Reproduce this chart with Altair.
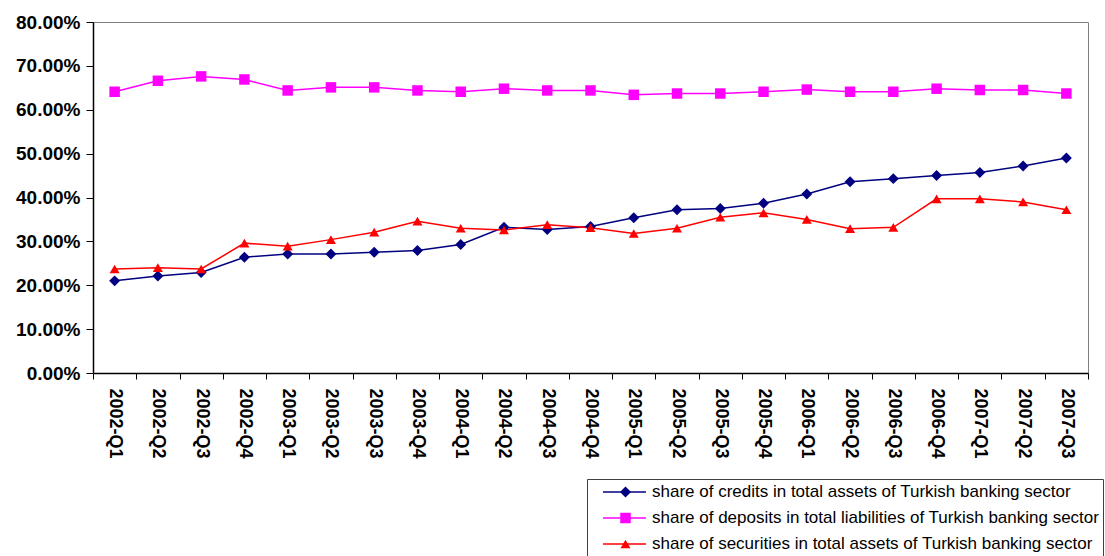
import altair as alt
import pandas as pd

quarters = [
    "2002-Q1", "2002-Q2", "2002-Q3", "2002-Q4",
    "2003-Q1", "2003-Q2", "2003-Q3", "2003-Q4",
    "2004-Q1", "2004-Q2", "2004-Q3", "2004-Q4",
    "2005-Q1", "2005-Q2", "2005-Q3", "2005-Q4",
    "2006-Q1", "2006-Q2", "2006-Q3", "2006-Q4",
    "2007-Q1", "2007-Q2", "2007-Q3",
]

# shares in percent
credits = [21.0, 22.1, 22.9, 26.4, 27.1, 27.1, 27.5, 27.9, 29.3, 33.2, 32.7, 33.4,
           35.4, 37.2, 37.5, 38.7, 40.8, 43.6, 44.3, 45.0, 45.7, 47.2, 49.0]
deposits = [64.1, 66.6, 67.6, 66.9, 64.4, 65.1, 65.1, 64.4, 64.1, 64.8, 64.4, 64.4,
            63.4, 63.7, 63.7, 64.1, 64.6, 64.1, 64.1, 64.8, 64.5, 64.5, 63.7]
securities = [23.7, 24.0, 23.7, 29.6, 28.9, 30.4, 32.1, 34.6, 33.0, 32.6, 33.8, 33.1,
              31.8, 33.0, 35.5, 36.5, 35.0, 32.9, 33.2, 39.7, 39.7, 39.0, 37.2]

series_names = [
    "share of credits in total assets of Turkish banking sector",
    "share of deposits in total liabilities of Turkish banking sector",
    "share of securities in total assets of Turkish banking sector",
]
series_colors = ["#000080", "#FF00FF", "#FF0000"]
series_shapes = ["diamond", "square", "triangle-up"]
series_sizes = [120, 100, 130]
y_ticks = [0, 0.1, 0.2, 0.3, 0.4, 0.5, 0.6, 0.7, 0.8]

rows = []
for name, vals in zip(series_names, [credits, deposits, securities]):
    for q, v in zip(quarters, vals):
        rows.append({"quarter": q, "series": name, "line_series": name, "share": v / 100})
df = pd.DataFrame(rows)

FONT = "Liberation Sans"

x_enc = alt.X(
    "quarter:N",
    sort=quarters,
    scale=alt.Scale(type="band", domain=quarters, paddingInner=0, paddingOuter=0),
    axis=alt.Axis(
        title=None,
        labelAngle=90,
        labelFont=FONT,
        labelFontSize=18,
        labelFontWeight="bold",
        labelColor="black",
        labelPadding=9,
        tickBand="extent",
        tickSize=6,
        tickColor="black",
        domainColor="black",
        domainWidth=1.5,
        labelOverlap=False,
    ),
)
y_enc = alt.Y(
    "share:Q",
    scale=alt.Scale(domain=[0, 0.8], nice=False, zero=True),
    axis=alt.Axis(
        title=None,
        values=y_ticks,
        format=".2%",
        grid=False,
        labelFont=FONT,
        labelFontSize=19,
        labelFontWeight="bold",
        labelColor="black",
        labelPadding=6,
        tickSize=7,
        tickColor="black",
        domainColor="black",
        domainWidth=1.5,
    ),
)

legend_common = dict(
    orient="none",
    legendX=494,
    legendY=457,
    title=None,
    clipHeight=20,
    rowPadding=6,
    padding=3,
    labelFont=FONT,
    labelFontSize=17,
    labelLimit=0,
)

# line legend: coloured strokes, the series labels and the frame
lines = alt.Chart(df).mark_line(strokeWidth=1.5).encode(
    x=x_enc,
    y=y_enc,
    stroke=alt.Stroke(
        "line_series:N",
        scale=alt.Scale(range=series_colors),
        legend=alt.Legend(
            symbolType="stroke",
            symbolSize=1849,
            symbolStrokeWidth=1.5,
            symbolOffset=12,
            labelOffset=5,
            labelColor="black",
            labelExpr="datum.label + '\u00a0\u00a0\u00a0\u00a0\u00a0\u00a0'",
            strokeColor="#404040",
            **legend_common,
        ),
    ),
)

# marker legend: the symbols only, laid over the strokes
marker_legend = alt.Legend(
    symbolSize=80,
    symbolStrokeWidth=0,
    symbolOffset=27,
    labelOffset=5,
    labelOpacity=0,
    labelExpr="''",
    **legend_common,
)

points = alt.Chart(df).mark_point(filled=True, opacity=1).encode(
    x=x_enc,
    y=y_enc,
    color=alt.Color(
        "series:N",
        scale=alt.Scale(domain=series_names, range=series_colors),
        legend=marker_legend,
    ),
    shape=alt.Shape(
        "series:N",
        scale=alt.Scale(domain=series_names, range=series_shapes),
        legend=marker_legend,
    ),
    size=alt.Size(
        "series:N",
        scale=alt.Scale(domain=series_names, range=series_sizes),
        legend=None,
    ),
)

chart = (
    alt.layer(lines, points)
    .resolve_scale(stroke="independent")
    .properties(
        width=995,
        height=351,
        autosize=alt.AutoSizeParams(type="none"),
        padding={"left": 93, "top": 22, "right": 17, "bottom": 183},
        background="white",
    )
    .configure_view(stroke="#808080", strokeWidth=1)
)

chart.save("out.html", embed_options={"renderer": "svg", "actions": False})
